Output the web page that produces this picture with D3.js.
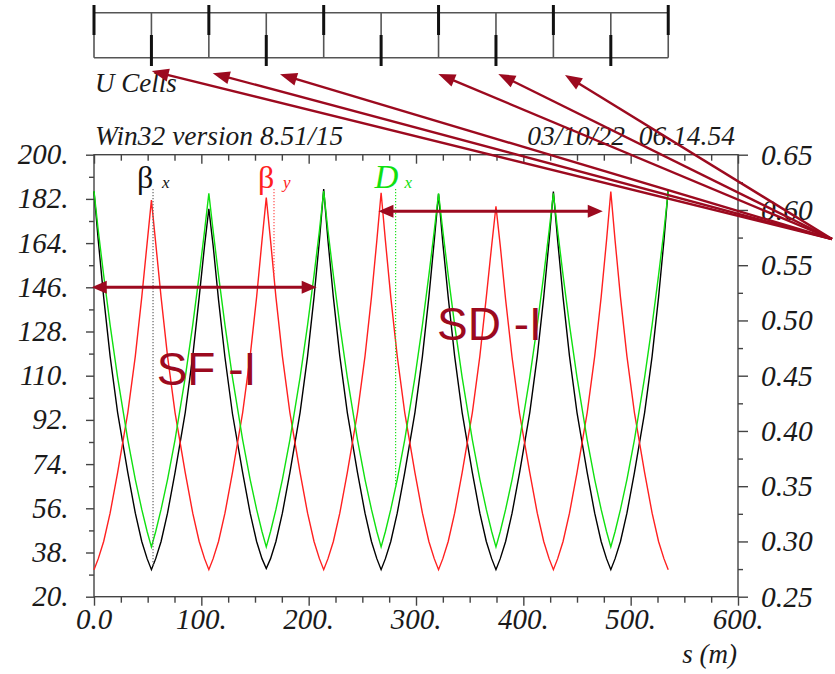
<!DOCTYPE html>
<html>
<head>
<meta charset="utf-8">
<script src="https://cdn.jsdelivr.net/npm/d3@7"></script>
<style>
  html, body { margin: 0; padding: 0; background: #fff; }
  svg { display: block; }
  .axis path { display: none; }
  .axis line { stroke: #444; stroke-width: 1.4; }
</style>
</head>
<body>
<svg id="chart" width="835" height="674"></svg>
<script>
// ---- optics along the lattice: position s (m), beta functions (m), dispersion (m) ----
const sPos = [
  0, 4, 9, 15, 22, 31.5, 38.5, 44.5, 49.5,
  53.5, 57.5, 62.5, 68.5, 75.5, 85, 92, 98, 103,
  107, 111, 116, 122, 129, 138.5, 145.5, 151.5, 156.5,
  160.5, 164.5, 169.5, 175.5, 182.5, 192, 199, 205, 210,
  214, 218, 223, 229, 236, 245.5, 252.5, 258.5, 263.5,
  267.5, 271.5, 276.5, 282.5, 289.5, 299, 306, 312, 317,
  321, 325, 330, 336, 343, 352.5, 359.5, 365.5, 370.5,
  374.5, 378.5, 383.5, 389.5, 396.5, 406, 413, 419, 424,
  428, 432, 437, 443, 450, 459.5, 466.5, 472.5, 477.5,
  481.5, 485.5, 490.5, 496.5, 503.5, 513, 520, 526, 531,
  535
];
const betaX = [
  185, 165, 142, 118, 95, 70.5, 54, 42.5, 35.5,
  31, 35.5, 42.5, 54, 70.5, 95, 118, 142, 163,
  178, 163, 141, 117.5, 94.5, 70.5, 54, 42.5, 35.5,
  31.5, 35.5, 42.5, 54, 70.5, 95, 118, 142, 165,
  186, 165, 142, 118, 95, 70.5, 54, 42.5, 35.5,
  31, 35.5, 42.5, 54, 70.5, 95, 118, 142, 165,
  184, 164, 142, 118, 95, 70.5, 54, 42.5, 35.5,
  31, 35.5, 42.5, 54, 70.5, 95, 118, 142, 165,
  185, 165, 142, 118, 95, 70.5, 54, 42.5, 35.5,
  31, 35.5, 42.5, 54, 70.5, 95, 118, 142, 165,
  186
];
const betaY = [
  31, 35.5, 42.5, 54, 70.5, 95, 118, 142, 164,
  181.5, 164, 142, 118, 95, 70.5, 54, 42.5, 35.5,
  31, 35.5, 42.5, 54, 70.5, 95, 118, 142, 165,
  182.5, 165, 142, 118, 95, 70.5, 54, 42.5, 35.5,
  31, 35.5, 42.5, 54, 70.5, 95, 118, 142, 165,
  184.5, 165, 142, 118, 95, 70.5, 54, 42.5, 35.5,
  31, 35.5, 42.5, 54, 70.5, 95, 118, 142, 163,
  179, 163, 141, 117.5, 94.5, 70.5, 54, 42.5, 35.5,
  31, 35.5, 42.5, 54, 70.5, 95, 118, 142, 165,
  185, 165, 142, 118, 95, 70.5, 54, 42.5, 35.5,
  31
];
const dispX = [
  0.617, 0.581, 0.541, 0.496, 0.4485, 0.392, 0.356, 0.329, 0.309,
  0.295, 0.309, 0.329, 0.356, 0.392, 0.4485, 0.496, 0.541, 0.581,
  0.615, 0.581, 0.541, 0.496, 0.4485, 0.392, 0.356, 0.329, 0.309,
  0.295, 0.309, 0.329, 0.356, 0.392, 0.4485, 0.496, 0.541, 0.581,
  0.617, 0.581, 0.541, 0.496, 0.4485, 0.392, 0.356, 0.329, 0.309,
  0.295, 0.309, 0.329, 0.356, 0.392, 0.4485, 0.496, 0.541, 0.581,
  0.615, 0.581, 0.541, 0.496, 0.4485, 0.392, 0.356, 0.329, 0.309,
  0.295, 0.309, 0.329, 0.356, 0.392, 0.4485, 0.496, 0.541, 0.581,
  0.615, 0.581, 0.541, 0.496, 0.4485, 0.392, 0.356, 0.329, 0.309,
  0.295, 0.309, 0.329, 0.356, 0.392, 0.4485, 0.496, 0.541, 0.581,
  0.617
];

// ---- lattice elements (quadrupole centres) ----
const quadS    = [0, 53.5, 107, 160.5, 214, 267.5, 321, 374.5, 428, 481.5, 535];
const quadKind = ["F", "D", "F", "D", "F", "D", "F", "D", "F", "D", "F"];

// ---- axis ticks and labels ----
const leftTicks   = [20, 38, 56, 74, 92, 110, 128, 146, 164, 182, 200];
const leftLabels  = ["20.", "38.", "56.", "74.", "92.", "110.", "128.", "146.", "164.", "182.", "200."];
const leftMinor   = [29, 47, 65, 83, 101, 119, 137, 155, 173, 191];
const rightTicks  = [0.25, 0.30, 0.35, 0.40, 0.45, 0.50, 0.55, 0.60, 0.65];
const rightLabels = ["0.25", "0.30", "0.35", "0.40", "0.45", "0.50", "0.55", "0.60", "0.65"];
const rightMinor  = [0.275, 0.325, 0.375, 0.425, 0.475, 0.525, 0.575, 0.625];
const sTicks      = [0, 100, 200, 300, 400, 500, 600];
const sLabels     = ["0.0", "100.", "200.", "300.", "400.", "500.", "600."];
const sMinor      = [25, 50, 75, 125, 150, 175, 225, 250, 275, 325, 350, 375, 425, 450, 475, 525, 550, 575];

// ---- curve markers: position along s and the series each one names ----
const markerS      = [55, 167.7, 281];
const markerSeries = ["betx", "bety", "dx"];

const SERIF = "Liberation Serif";
const SANS  = "Liberation Sans";
const RED_DARK = "#9c0a1f";

const svg = d3.select("#chart");
const x  = d3.scaleLinear().domain([0, 600]).range([94, 738]);
const yL = d3.scaleLinear().domain([20, 200]).range([596.7, 154.7]);
const yR = d3.scaleLinear().domain([0.25, 0.65]).range([596.7, 154.7]);

svg.append("rect").attr("width", 835).attr("height", 674).attr("fill", "#fff");

// plain serif text (italic unless asked otherwise)
function serifText(px, py, str, size, anchor, opts) {
  const o = opts || {};
  return svg.append("text")
    .attr("x", px).attr("y", py)
    .attr("text-anchor", anchor || "start")
    .attr("font-family", SERIF)
    .attr("font-style", o.upright ? "normal" : "italic")
    .attr("font-size", size)
    .attr("fill", o.fill || "#1a1a1a")
    .text(str);
}

// ---- lattice layout strip ----
const lat = svg.append("g");
const latTop = 12.7, latBot = 57.7, latMid = 35;
[latTop, latBot].forEach(yy => {
  lat.append("line").attr("x1", x(quadS[0])).attr("x2", x(quadS[quadS.length - 1]))
    .attr("y1", yy).attr("y2", yy).attr("stroke", "#555").attr("stroke-width", 1.6);
});
lat.selectAll("line.edge").data(quadS).enter().append("line").attr("class", "edge")
  .attr("x1", d => x(d)).attr("x2", d => x(d))
  .attr("y1", latTop).attr("y2", latBot).attr("stroke", "#555").attr("stroke-width", 1.6);
lat.selectAll("line.quad").data(quadS).enter().append("line").attr("class", "quad")
  .attr("x1", d => x(d)).attr("x2", d => x(d))
  .attr("y1", (d, i) => quadKind[i] === "F" ? 5 : latMid)
  .attr("y2", (d, i) => quadKind[i] === "F" ? latMid : 66)
  .attr("stroke", "#111").attr("stroke-width", 3);

serifText(95, 91.5, "U Cells", 27);
serifText(95, 145, "Win32 version 8.51/15", 27.5);
serifText(735, 145, "03/10/22\u00A0\u00A006.14.54", 27.5, "end");

// ---- axes ----
const gL = svg.append("g").attr("class", "axis").attr("transform", `translate(${x(0)},0)`);
gL.call(d3.axisLeft(yL).tickValues(leftTicks).tickSize(8).tickFormat(""));
gL.append("g").call(d3.axisLeft(yL).tickValues(leftMinor).tickSize(5).tickFormat(""));

const gR = svg.append("g").attr("class", "axis").attr("transform", `translate(${x(600)},0)`);
gR.call(d3.axisRight(yR).tickValues(rightTicks).tickSize(10).tickFormat(""));
gR.append("g").call(d3.axisRight(yR).tickValues(rightMinor).tickSize(5).tickFormat(""));

const gB = svg.append("g").attr("class", "axis").attr("transform", `translate(0,${yL(20)})`);
gB.call(d3.axisBottom(x).tickValues(sTicks).tickSize(9).tickFormat(""));
gB.append("g").call(d3.axisBottom(x).tickValues(sMinor).tickSize(6).tickFormat(""));

const gT = svg.append("g").attr("class", "axis").attr("transform", `translate(0,${yL(200)})`);
gT.call(d3.axisBottom(x).tickValues(sTicks).tickSize(9).tickFormat(""));
gT.append("g").call(d3.axisBottom(x).tickValues(sMinor).tickSize(6).tickFormat(""));

svg.append("rect")
  .attr("x", x(0)).attr("y", yL(200))
  .attr("width", x(600) - x(0)).attr("height", yL(20) - yL(200))
  .attr("fill", "none").attr("stroke", "#444").attr("stroke-width", 1.4);

leftTicks.forEach((v, i) => serifText(68.5, yL(v) + 9.5, leftLabels[i], 29, "end"));
rightTicks.forEach((v, i) => serifText(761, yR(v) + 10, rightLabels[i], 29.5, "start"));
sTicks.forEach((v, i) => serifText(x(v), 629, sLabels[i], 29, "middle"));
serifText(737, 663, "s (m)", 27, "end");

// ---- curves ----
const plot = svg.append("g");
const lineL = arr => d3.line().x((d, i) => x(sPos[i])).y((d, i) => yL(arr[i]))(arr);
const lineR = arr => d3.line().x((d, i) => x(sPos[i])).y((d, i) => yR(arr[i]))(arr);

plot.append("path").attr("d", lineL(betaX)).attr("fill", "none")
  .attr("stroke", "#000").attr("stroke-width", 1.4);
plot.append("path").attr("d", lineL(betaY)).attr("fill", "none")
  .attr("stroke", "#ff2020").attr("stroke-width", 1.4);
plot.append("path").attr("d", lineR(dispX)).attr("fill", "none")
  .attr("stroke", "#10e010").attr("stroke-width", 1.4);

// value of a series at s (linear between stored points)
function valueAt(arr, s) {
  const i = Math.max(1, d3.bisectLeft(sPos, s));
  const t = (s - sPos[i - 1]) / (sPos[i] - sPos[i - 1]);
  return arr[i - 1] + t * (arr[i] - arr[i - 1]);
}

const seriesInfo = {
  betx: { arr: betaX, scale: yL, color: "#666", fill: "#111", main: "\u03B2", sub: "x", mainItalic: false },
  bety: { arr: betaY, scale: yL, color: "#ff5050", fill: "#ff2020", main: "\u03B2", sub: "y", mainItalic: false },
  dx:   { arr: dispX, scale: yR, color: "#20e020", fill: "#10e010", main: "D", sub: "x", mainItalic: true }
};

markerS.forEach((s, k) => {
  const info = seriesInfo[markerSeries[k]];
  const px = x(s);
  const yEnd = info.scale(valueAt(info.arr, s));
  svg.append("line").attr("x1", px).attr("x2", px).attr("y1", 189).attr("y2", yEnd)
    .attr("stroke", info.color).attr("stroke-width", 1.2).attr("stroke-dasharray", "1.3,1.7");
  serifText(info.mainItalic ? px - 21 : px - 16, 188, info.main, info.mainItalic ? 33 : 32, "start",
    { upright: !info.mainItalic, fill: info.fill });
  serifText(px + 9, 188, info.sub, 17, "start", { fill: info.fill });
});

// ---- annotations ----
function arrowHead(g, tx, ty, fx, fy, len, half) {
  const a = Math.atan2(ty - fy, tx - fx);
  const bx = tx - len * Math.cos(a), by = ty - len * Math.sin(a);
  const nx = -Math.sin(a) * half, ny = Math.cos(a) * half;
  g.append("polygon")
    .attr("points", `${tx},${ty} ${bx + nx},${by + ny} ${bx - nx},${by - ny}`)
    .attr("fill", RED_DARK);
  return [bx, by];
}
function doubleArrow(s0, s1, v) {
  const g = svg.append("g");
  const y = yL(v), x0 = x(s0), x1 = x(s1);
  g.append("line").attr("x1", x0 + 10).attr("x2", x1 - 10).attr("y1", y).attr("y2", y)
    .attr("stroke", RED_DARK).attr("stroke-width", 3);
  arrowHead(g, x0, y, x1, y, 15, 6.5);
  arrowHead(g, x1, y, x0, y, 15, 6.5);
}
doubleArrow(-2.1, 207.5, 146);
doubleArrow(265, 474, 177);

svg.append("text").attr("x", x(58.4)).attr("y", yL(106.2))
  .attr("font-family", SANS).attr("font-size", 46)
  .attr("fill", RED_DARK).text("SF -I");
svg.append("text").attr("x", x(319.6)).attr("y", yL(124.5))
  .attr("font-family", SANS).attr("font-size", 46)
  .attr("fill", RED_DARK).text("SD -I");

// pointers from the note off the right edge to the sextupole slots in the strip
const pointerS = [53.8, 110.6, 173.3, 320.8, 376.7, 438.8];
const pointerY = [71, 73.3, 74.3, 74, 74, 75];
const hub = [832, 239];
const gp = svg.append("g");
pointerS.forEach((s, i) => {
  const tx = x(s), ty = pointerY[i];
  const [bx, by] = arrowHead(gp, tx, ty, hub[0], hub[1], 17, 6.5);
  gp.append("line").attr("x1", hub[0]).attr("y1", hub[1])
    .attr("x2", bx + (tx - bx) * 0.3).attr("y2", by + (ty - by) * 0.3)
    .attr("stroke", RED_DARK).attr("stroke-width", 2.4);
});
</script>
</body>
</html>
